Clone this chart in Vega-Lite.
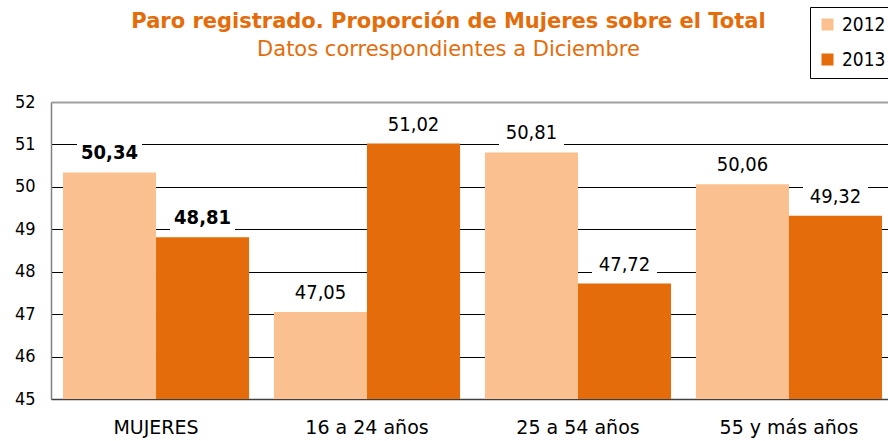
{
  "$schema": "https://vega.github.io/schema/vega-lite/v6.json",
  "autosize": "none",
  "width": 837,
  "height": 297,
  "padding": {"left": 51, "top": 102, "right": 0, "bottom": 42},
  "config": {
    "view": {"stroke": null},
    "font": "DejaVu Sans Condensed",
    "locale": {"number": {"decimal": ",", "thousands": ".", "grouping": [3], "currency": ["", " €"]}}
  },
  "title": {
    "text": "Paro registrado. Proporción de Mujeres sobre el Total",
    "subtitle": "Datos  correspondientes a Diciembre",
    "anchor": "middle",
    "frame": "group",
    "dx": -21,
    "offset": -53,
    "font": "DejaVu Sans",
    "fontSize": 21,
    "fontWeight": "bold",
    "color": "#E46C0A",
    "subtitleFont": "DejaVu Sans",
    "subtitleFontSize": 21,
    "subtitleColor": "#E46C0A",
    "subtitlePadding": 7
  },
  "data": {
    "values": [
      {"grupo": "MUJERES", "year": "2012", "valor": 50.34},
      {"grupo": "MUJERES", "year": "2013", "valor": 48.81},
      {"grupo": "16 a  24 años", "year": "2012", "valor": 47.05},
      {"grupo": "16 a  24 años", "year": "2013", "valor": 51.02},
      {"grupo": "25 a  54 años", "year": "2012", "valor": 50.81},
      {"grupo": "25 a  54 años", "year": "2013", "valor": 47.72},
      {"grupo": "55 y más años", "year": "2012", "valor": 50.06},
      {"grupo": "55 y más años", "year": "2013", "valor": 49.32}
    ]
  },
  "encoding": {
    "x": {
      "field": "grupo", "type": "nominal", "sort": null,
      "scale": {"paddingInner": 0.118, "paddingOuter": 0.0426, "align": 0.667},
      "axis": {
        "title": null, "labelAngle": 0, "ticks": false,
        "labelFont": "DejaVu Sans", "labelFontSize": 19, "labelColor": "#000", "labelPadding": 19,
        "domainColor": "#404040", "domainWidth": 1.5, "grid": false
      }
    },
    "xOffset": {"field": "year", "type": "nominal", "scale": {"paddingInner": 0, "paddingOuter": 0}},
    "y": {
      "field": "valor", "type": "quantitative",
      "scale": {"domain": [45, 52], "zero": false, "nice": false},
      "axis": {
        "title": null, "values": [45, 46, 47, 48, 49, 50, 51, 52], "ticks": false,
        "labelFontSize": 18, "labelColor": "#000", "labelPadding": 16, "format": "d",
        "domainColor": "#808080", "domainWidth": 1.5,
        "grid": true, "gridColor": {"condition": {"test": "datum.value == 52", "value": "#a0a0a0"}, "value": "#000000"},
        "gridWidth": {"condition": {"test": "datum.value == 52", "value": 2}, "value": 1}
      }
    }
  },
  "layer": [
    {
      "mark": {"type": "bar"},
      "encoding": {
        "y2": {"datum": 45},
        "color": {
          "field": "year", "type": "nominal",
          "scale": {"domain": ["2012", "2013"], "range": ["#FAC090", "#E46C0A"]},
          "legend": {
            "title": null, "orient": "none", "legendX": 759, "legendY": -95,
            "symbolType": "square", "symbolSize": 144, "symbolStrokeWidth": 0,
            "labelFontSize": 19, "labelColor": "#000", "labelOffset": 5,
            "rowPadding": 15, "padding": 8, "strokeColor": "#000"
          }
        }
      }
    },
    {
      "mark": {"type": "point", "shape": "M-1,-0.41L1,-0.41L1,0.41L-1,0.41Z", "filled": true, "color": "#ffffff", "opacity": 1, "size": 4225, "yOffset": -19, "strokeWidth": 0}
    },
    {
      "transform": [{"filter": "datum.grupo != 'MUJERES'"}],
      "mark": {"type": "text", "baseline": "middle", "yOffset": -19, "fontSize": 20, "color": "#000"},
      "encoding": {"text": {"field": "valor", "type": "quantitative", "format": ".2f"}}
    },
    {
      "transform": [{"filter": "datum.grupo == 'MUJERES'"}],
      "mark": {"type": "text", "baseline": "middle", "yOffset": -19, "fontSize": 20, "fontWeight": "bold", "color": "#000"},
      "encoding": {"text": {"field": "valor", "type": "quantitative", "format": ".2f"}}
    }
  ]
}
